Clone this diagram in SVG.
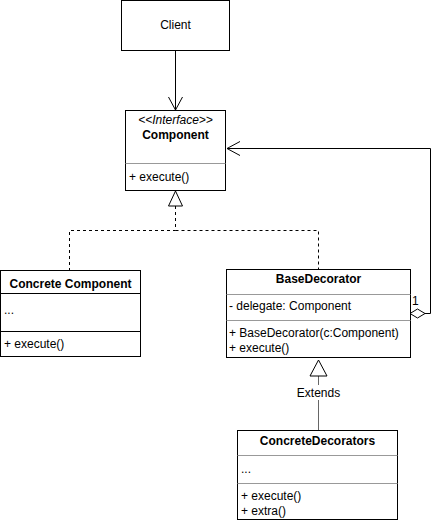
<svg xmlns="http://www.w3.org/2000/svg" width="448" height="521" viewBox="0 0 448 521">
<style>
.box{fill:#fff;stroke:#000;stroke-width:1}
.sep{stroke:#999;stroke-width:1}
text{font-family:"Liberation Sans",Arial,sans-serif;font-size:12px;fill:#000}
.t{font-weight:bold;text-anchor:middle}
.c{text-anchor:middle}
.e{fill:none;stroke:#000;stroke-width:1}
</style>
<rect width="448" height="521" fill="#fff"/>
<g id="connectors">
  <path class="e" d="M175.5 50.5V110"/>
  <path class="e" d="M168.5 97L175.5 110L182.5 97"/>
  <path class="e" stroke-dasharray="3 3" d="M175.5 206V230.5H69.5V271M175.5 230.5H318.5V269"/>
  <path d="M175.5 191L168.5 206H182.5Z" fill="#fff" stroke="#000"/>
  <path class="e" d="M425 313.5H430.5V148.5H227"/>
  <path class="e" d="M240 141.5L227 148.5L240 155.5"/>
  <path d="M410 313.5L417.5 309L425 313.5L417.5 318Z" fill="#fff" stroke="#000"/>
  <text x="412" y="305">1</text>
  <path d="M318.5 376V430" stroke="#666" fill="none"/>
  <path d="M318.5 360L310 376H327Z" fill="#fff" stroke="#000"/>
  <rect x="295" y="385" width="47" height="15" fill="#fff"/>
  <text class="c" x="318.5" y="397">Extends</text>
</g>
<g id="client">
  <rect class="box" x="121.5" y="0.5" width="108" height="50"/>
  <text class="c" x="175.5" y="29">Client</text>
</g>
<g id="component">
  <rect class="box" x="125.5" y="110.5" width="100" height="80"/>
  <text class="c" x="175.5" y="124" font-style="italic" font-size="10">&lt;&lt;Interface&gt;&gt;</text>
  <text class="t" x="175.5" y="139">Component</text>
  <line class="sep" x1="125.5" y1="163.5" x2="225.5" y2="163.5"/>
  <text x="129" y="181">+ execute()</text>
</g>
<g id="concrete-component">
  <rect class="box" x="0.5" y="270.5" width="140" height="86"/>
  <text class="t" x="70.5" y="288">Concrete Component</text>
  <line x1="0.5" y1="293.5" x2="140.5" y2="293.5" stroke="#000"/>
  <text x="4" y="314" font-size="9" fill="#666">...</text>
  <line x1="0.5" y1="331.5" x2="140.5" y2="331.5" stroke="#000"/>
  <text x="4" y="348">+ execute()</text>
</g>
<g id="base-decorator">
  <rect class="box" x="226.5" y="269.5" width="184" height="88"/>
  <text class="t" x="318.5" y="283">BaseDecorator</text>
  <line class="sep" x1="226.5" y1="294.5" x2="410.5" y2="294.5"/>
  <text x="229" y="310">- delegate: Component</text>
  <line class="sep" x1="226.5" y1="320.5" x2="410.5" y2="320.5"/>
  <text x="229" y="337">+ BaseDecorator(c:Component)</text>
  <text x="229" y="352">+ execute()</text>
</g>
<g id="concrete-decorators">
  <rect class="box" x="237.5" y="430.5" width="160" height="89"/>
  <text class="t" x="317.5" y="445">ConcreteDecorators</text>
  <line class="sep" x1="237.5" y1="455.5" x2="397.5" y2="455.5"/>
  <text x="241" y="473" font-size="9" fill="#666">...</text>
  <line class="sep" x1="237.5" y1="483.5" x2="397.5" y2="483.5"/>
  <text x="241" y="500">+ execute()</text>
  <text x="241" y="515">+ extra()</text>
</g>
</svg>
